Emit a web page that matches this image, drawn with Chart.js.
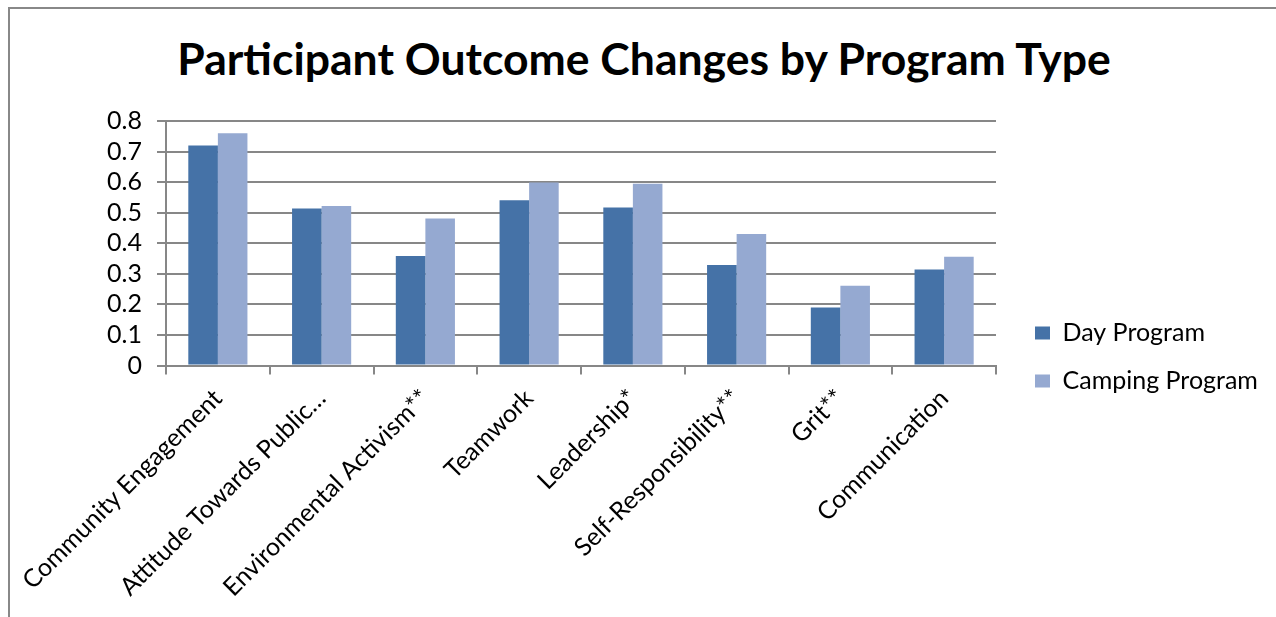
<!DOCTYPE html>
<html lang="en">
<head>
<meta charset="UTF-8">
<title>Participant Outcome Changes by Program Type</title>
<script src="https://cdn.jsdelivr.net/npm/chart.js"></script>
<style>
  html, body { margin: 0; padding: 0; background: #fff; }
  body { width: 1276px; height: 617px; overflow: hidden; position: relative; font-family: Lato, "Open Sans", sans-serif; }
  .frame { position: absolute; left: 8px; top: 7px; right: -20px; bottom: -20px; border-top: 2px solid #888; border-left: 2px solid #888; }
  .chart-title { position: absolute; left: 0; top: 31px; width: 1288px; margin: 0; text-align: center; font-size: 44.5px; font-weight: 700; color: #000; }
  .chart-box { position: absolute; left: 0; top: 90.5px; width: 1276px; height: 526.5px; }
</style>
</head>
<body>
<div class="frame"></div>
<h1 class="chart-title">Participant Outcome Changes by Program Type</h1>
<div class="chart-box"><canvas id="outcomeChart"></canvas></div>

<script>
// outcome categories and mean change per program type
const categories = [
    'Community Engagement',
    'Attitude Towards Public\u2026',
    'Environmental Activism**',
    'Teamwork',
    'Leadership*',
    'Self-Responsibility**',
    'Grit**',
    'Communication'
];
const dayProgram = [0.72, 0.514, 0.358, 0.541, 0.517, 0.329, 0.19, 0.314];
const campingProgram = [0.76, 0.522, 0.481, 0.599, 0.595, 0.43, 0.261, 0.356];
const yTickLabels = ['0', '0.1', '0.2', '0.3', '0.4', '0.5', '0.6', '0.7', '0.8'];

const gridGray = '#878787';
const labelFont = { family: 'Lato, "Open Sans", sans-serif', size: 25 };

// fixed legend width so the plot keeps its right edge
const legendWidth = {
    id: 'legendWidth',
    beforeLayout(chart) {
        const lg = chart.legend;
        if (lg && !lg._widthFixed) {
            const fit = lg.fit.bind(lg);
            lg.fit = function () { fit(); this.width = 264; };
            lg._widthFixed = true;
        }
    }
};

const ctx = document.getElementById('outcomeChart').getContext('2d');
const outcomeChart = new Chart(ctx, {
    type: 'bar',
    data: {
        labels: categories,
        datasets: [{
            label: 'Day Program',
            data: dayProgram,
            backgroundColor: '#4572a7',
            borderWidth: 0
        }, {
            label: 'Camping Program',
            data: campingProgram,
            backgroundColor: '#95a9d1',
            borderWidth: 0
        }]
    },
    options: {
        responsive: true,
        maintainAspectRatio: false,
        animation: false,
        layout: { padding: { top: 11, bottom: 5.5, left: 0, right: 0 } },
        datasets: {
            bar: { categoryPercentage: 0.57, barPercentage: 1.0 }
        },
        plugins: {
            title: { display: false },
            tooltip: { enabled: false },
            legend: {
                position: 'right',
                align: 'center',
                labels: {
                    color: '#000',
                    font: labelFont,
                    boxWidth: 15,
                    boxHeight: 13,
                    padding: 23
                }
            }
        },
        scales: {
            x: {
                grid: {
                    offset: true,
                    drawOnChartArea: false,
                    drawTicks: true,
                    tickLength: 9,
                    color: gridGray,
                    lineWidth: 2
                },
                border: { display: true, color: gridGray, width: 2 },
                ticks: {
                    color: '#000',
                    font: labelFont,
                    minRotation: 45,
                    maxRotation: 45,
                    autoSkip: false,
                    padding: 9
                },
                afterFit(scale) { scale.height = 246.5; }
            },
            y: {
                min: 0,
                max: 0.8,
                grid: {
                    color: gridGray,
                    lineWidth: 2,
                    drawTicks: true,
                    tickLength: 9
                },
                border: { display: true, color: gridGray, width: 2 },
                ticks: {
                    stepSize: 0.1,
                    autoSkip: false,
                    color: '#000',
                    font: labelFont,
                    padding: 15,
                    callback: (v, i) => yTickLabels[i]
                },
                afterFit(scale) { scale.width = 166; }
            },
            gap: {
                position: 'right',
                display: true,
                grid: { display: false },
                border: { display: false },
                ticks: { display: false },
                afterFit(scale) { scale.width = 16; }
            }
        }
    },
    plugins: [legendWidth]
});
</script>
</body>
</html>
